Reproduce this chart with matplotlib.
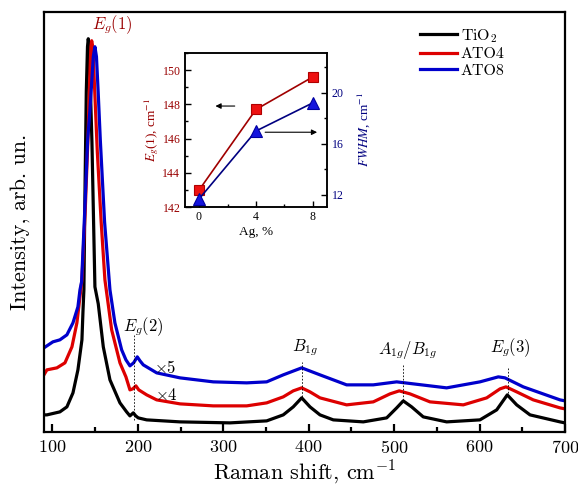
import matplotlib
matplotlib.use("Agg")
import matplotlib.pyplot as plt
from matplotlib.ticker import MultipleLocator

plt.rcParams["font.family"] = "cmr10"
plt.rcParams["mathtext.fontset"] = "cm"
plt.rcParams["axes.formatter.use_mathtext"] = True

# Raman spectra (shift in cm^-1, intensity in arb. units, curves offset)
tio2_shift = [90, 93.5, 108.7, 116.9, 124.0, 129.8, 134.5, 135.7, 136.8, 138.2,
              139.6, 141.0, 141.9, 143.0, 144.5, 146.2, 149.7, 153.6, 159.5, 167.3,
              179.0, 186.8, 190.7, 194.6, 197.5, 200.4, 210.3, 249.3, 307.8, 350.8,
              370.2, 381.9, 391.8, 401.5, 413.2, 428.8, 463.9, 491.3, 503.0, 510.7,
              520.5, 534.1, 561.5, 600.5, 620.1, 632.5, 643.5, 659.1, 694.2, 700]
tio2_int = [17, 17, 20, 25, 39, 62, 92, 120, 142, 250,
            340, 385, 393, 385, 340, 290, 145, 128, 85, 52,
            29, 20, 16, 19, 16, 14, 12, 10, 9, 11,
            17, 25, 34, 25, 17, 12, 10, 14, 24, 31,
            25, 15, 10, 12, 22, 37, 27, 17, 10, 9]

ato4_shift = [90, 93.5, 105.2, 114.6, 122.8, 128.6, 132.2, 134.5, 138.5, 141.5,
              143.5, 145.0, 145.9, 147.2, 149.0, 151.0, 152.5, 157.0, 161.4, 169.3,
              179.0, 186.0, 190.7, 194.0, 197.7, 201.0, 210.3, 222.0, 249.3, 288.2,
              327.4, 350.8, 370.2, 381.9, 391.8, 401.5, 413.2, 444.4, 475.6, 495.2,
              506.0, 518.6, 542.0, 581.0, 608.4, 624.0, 631.0, 643.5, 662.9, 694.2, 700]
ato4_int = [57, 62, 64, 69, 85, 109, 135, 152, 225, 292,
            350, 385, 391, 385, 350, 310, 280, 210, 152, 102,
            69, 55, 42, 43, 46, 42, 37, 32, 28, 26,
            26, 29, 35, 41, 44, 40, 34, 27, 30, 38,
            41, 38, 30, 27, 34, 43, 45, 40, 32, 24, 23]

ato8_shift = [90, 100.5, 108.7, 116.9, 124.0, 129.8, 132.2, 134.1, 138.0, 141.2,
              143.9, 146.0, 147.8, 149.7, 151.5, 153.5, 156.0, 161.0, 167.3, 173.1,
              181.0, 186.0, 190.7, 195.0, 199.3, 202.5, 206.3, 222.0, 249.3, 288.2,
              327.4, 350.8, 370.2, 391.8, 413.2, 444.4, 475.6, 503.0, 522.4, 561.5,
              600.5, 622.0, 629.8, 651.2, 694.2, 700]
ato8_int = [84, 90, 92, 97, 109, 125, 142, 150, 225, 292,
            322, 350, 375, 385, 375, 340, 292, 210, 142, 109,
            82, 72, 66, 69, 75, 71, 67, 59, 54, 50,
            49, 50, 57, 64, 57, 47, 47, 50, 48, 44,
            50, 55, 54, 45, 32, 31]

# Phonon modes marked on the spectra
mode_labels = ["$E_g(2)$", "$B_{1g}$", "$A_{1g}/B_{1g}$", "$E_g(3)$"]
mode_shift = [195.4, 392.5, 510.7, 633.7]

# Inset: Eg(1) position and width vs Ag content
ag_content = [0, 4, 8]
eg1_position = [143.0, 147.7, 149.6]
eg1_fwhm = [11.7, 17.0, 19.2]

fig = plt.figure(figsize=(5.78, 4.88), dpi=100)
ax = fig.add_axes([0.076, 0.115, 0.9014, 0.861])

ax.plot(tio2_shift, tio2_int, color="black", lw=2.3, label="TiO$_2$")
ax.plot(ato4_shift, ato4_int, color="#dd0000", lw=2.3, label="ATO4")
ax.plot(ato8_shift, ato8_int, color="#0000cc", lw=2.3, label="ATO8")

ax.set_xlim(90, 700)
ax.set_ylim(0, 420)
ax.set_yticks([])
ax.xaxis.set_major_locator(MultipleLocator(100))
ax.xaxis.set_minor_locator(MultipleLocator(50))
ax.tick_params(axis="x", which="major", direction="in", length=6, width=1.6,
               labelsize=13, pad=5)
ax.tick_params(axis="x", which="minor", direction="in", length=3.5, width=1.6)
for s in ax.spines.values():
    s.set_linewidth(1.6)

ax.set_xlabel("Raman shift, cm$^{-1}$", fontsize=16, labelpad=2)
ax.set_ylabel("Intensity, arb. un.", fontsize=16, labelpad=10)

# mode labels with dashed guides
guide_low = [12, 32, 32, 39]
guide_high = [97, 70, 67, 64]
label_pos = [(205.9, 105), (395.6, 84), (516.2, 82), (635.7, 84)]
for lab, x0, lo, hi, (tx, ty) in zip(mode_labels, mode_shift, guide_low, guide_high, label_pos):
    ax.plot([x0, x0], [lo, hi], color="black", lw=0.6, ls=(0, (2, 2)))
    ax.text(tx, ty, lab, fontsize=12, ha="center", va="center")

ax.text(169.6, 407, "$E_g(1)$", fontsize=12, color="#990000", ha="center", va="center")
ax.text(231.7, 64, r"$\times5$", fontsize=12, ha="center", va="center")
ax.text(232.9, 37, r"$\times4$", fontsize=12, ha="center", va="center")

ax.legend(loc="upper left", bbox_to_anchor=(420 / 578, 1 - 27 / 488),
          bbox_transform=fig.transFigure, frameon=False, fontsize=11.5,
          handlelength=2.3, handletextpad=0.25, labelspacing=0.15,
          borderpad=0, borderaxespad=0)

# inset
axi = fig.add_axes([0.320, 0.5758, 0.2457, 0.3156])
axr = axi.twinx()
axi.plot(ag_content, eg1_position, color="#a00000", lw=1.2, marker="s", ms=6.5,
         mfc="#ee1111", mec="#b00000", mew=0.8, zorder=3)
axr.plot(ag_content, eg1_fwhm, color="#000080", lw=1.2, marker="^", ms=8,
         mfc="#1515dd", mec="#0000a0", mew=0.8, zorder=3)

axi.set_xlim(-1, 9)
axi.set_ylim(142, 151)
axr.set_ylim(11.06, 23.1)
axi.xaxis.set_major_locator(MultipleLocator(4))
axi.xaxis.set_minor_locator(MultipleLocator(2))
axi.yaxis.set_major_locator(MultipleLocator(2))
axi.yaxis.set_minor_locator(MultipleLocator(1))
axr.yaxis.set_major_locator(MultipleLocator(4))
axr.yaxis.set_minor_locator(MultipleLocator(2))
for a in (axi, axr):
    a.tick_params(which="major", direction="in", length=4, width=1.0, labelsize=8.5, pad=3)
    a.tick_params(which="minor", direction="in", length=2.5, width=1.0)
    for s in a.spines.values():
        s.set_linewidth(1.1)
    for t in a.get_xticklabels() + a.get_yticklabels():
        t.set_family("Liberation Serif")
axi.tick_params(axis="y", labelcolor="#990000")
axr.tick_params(axis="y", labelcolor="#000080")

axi.set_xlabel("Ag, %", fontsize=9.5, family="Liberation Serif", labelpad=2)
axi.set_ylabel("$E_g$(1), cm$^{-1}$", fontsize=9.5, color="#990000",
               family="Liberation Serif", math_fontfamily="stix", labelpad=0)
axr.set_ylabel("$FWHM$, cm$^{-1}$", fontsize=9.5, color="#000080",
               family="Liberation Serif", math_fontfamily="stix", labelpad=8)

axi.annotate("", xy=(0.95, 147.9), xytext=(2.7, 147.9),
             arrowprops=dict(arrowstyle="-|>", color="black", lw=0.8, mutation_scale=8))
axi.annotate("", xy=(8.5, 146.37), xytext=(4.45, 146.37),
             arrowprops=dict(arrowstyle="-|>", color="black", lw=0.8, mutation_scale=8))

fig.savefig("out.png", dpi=100)
